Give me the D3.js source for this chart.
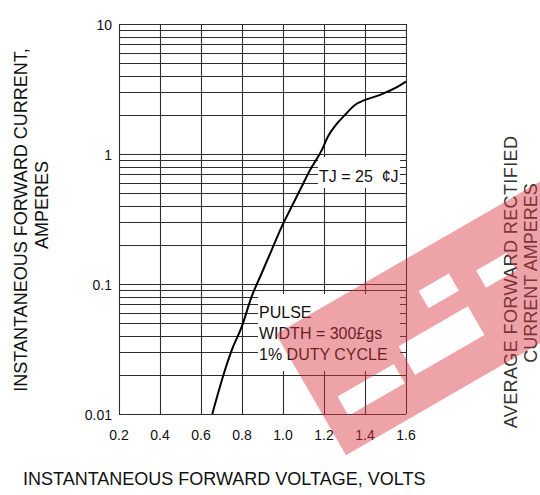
<!DOCTYPE html>
<html>
<head>
<meta charset="utf-8">
<script src="https://cdn.jsdelivr.net/npm/d3@7/dist/d3.min.js"></script>
<style>
  body { margin: 0; background: #fff; }
  svg text { font-family: "Liberation Sans", Arial, sans-serif; fill: #111; }
</style>
</head>
<body>
<div id="chart"></div>
<script>
// Forward voltage (V) vs instantaneous forward current (A)
const voltage = [0.655, 0.717, 0.75, 0.799, 0.847, 0.896, 0.945, 0.994, 1.034, 1.083,
                 1.132, 1.189, 1.22, 1.26, 1.30, 1.351, 1.376, 1.473, 1.556, 1.6];
const current = [0.01, 0.0218, 0.031, 0.047, 0.08, 0.121, 0.183, 0.276, 0.371, 0.528,
                 0.753, 1.07, 1.37, 1.69, 1.98, 2.38, 2.51, 2.85, 3.27, 3.6];

const xTicks = [0.2, 0.4, 0.6, 0.8, 1.0, 1.2, 1.4, 1.6];
const yTicks = [0.01, 0.1, 1, 10];
const yTickLabels = ["0.01", "0.1", "1", "10"];

const width = 540, height = 495;
const margin = { top: 24, right: 134, bottom: 81, left: 119 };

const svg = d3.select("#chart").append("svg")
    .attr("width", width)
    .attr("height", height);

const x = d3.scaleLinear().domain([0.2, 1.6]).range([margin.left, width - margin.right]);
const y = d3.scaleLog().domain([0.01, 10]).range([height - margin.bottom, margin.top]);

// grid: every 0.2 V and every 1..9 multiple of each decade
const hLines = [];
[0.01, 0.1, 1].forEach(dec => {
    for (let m = 1; m <= 9; m++) hLines.push(dec * m);
});
hLines.push(10);

const grid = svg.append("g")
    .attr("stroke", "#2e2e2e")
    .attr("stroke-width", 1.1);

grid.selectAll(".h")
    .data(hLines)
    .enter().append("line")
    .attr("x1", x(0.2)).attr("x2", x(1.6))
    .attr("y1", d => Math.round(y(d)) + 0.5)
    .attr("y2", d => Math.round(y(d)) + 0.5);

grid.selectAll(".v")
    .data(xTicks)
    .enter().append("line")
    .attr("x1", d => Math.round(x(d)) + 0.5)
    .attr("x2", d => Math.round(x(d)) + 0.5)
    .attr("y1", y(10)).attr("y2", y(0.01));

// white boxes behind the annotations (they cut the grid)
svg.append("rect").attr("x", 318).attr("y", 157).attr("width", 82).attr("height", 31).attr("fill", "#fff");
svg.append("rect").attr("x", 258).attr("y", 294).attr("width", 142).attr("height", 77).attr("fill", "#fff");

// the curve
const pts = voltage.map((v, i) => [v, current[i]]);
const line = d3.line()
    .x(d => x(d[0]))
    .y(d => y(d[1]))
    .curve(d3.curveMonotoneX);

svg.append("path")
    .datum(pts)
    .attr("d", line)
    .attr("fill", "none")
    .attr("stroke", "#000")
    .attr("stroke-width", 2);

// tick labels
svg.selectAll(".xl")
    .data(xTicks)
    .enter().append("text")
    .attr("x", d => x(d))
    .attr("y", 440)
    .attr("text-anchor", "middle")
    .style("font-size", "14px")
    .text(d => d3.format(".1f")(d));

svg.selectAll(".yl")
    .data(yTicks)
    .enter().append("text")
    .attr("x", 112)
    .attr("y", d => y(d) + 6)
    .attr("text-anchor", "end")
    .style("font-size", "14px")
    .text((d, i) => yTickLabels[i]);

// annotations
svg.append("text")
    .attr("x", 319).attr("y", 182)
    .style("font-size", "16px")
    .style("white-space", "pre")
    .text("TJ = 25  ¢J");

const pulse = ["PULSE", "WIDTH = 300£gs", "1% DUTY CYCLE"];
svg.selectAll(".pl")
    .data(pulse)
    .enter().append("text")
    .attr("x", 259)
    .attr("y", (d, i) => 318 + i * 21)
    .style("font-size", "16px")
    .text(d => d);

// axis titles
svg.append("text")
    .attr("x", 23).attr("y", 485)
    .style("font-size", "18px")
    .text("INSTANTANEOUS FORWARD VOLTAGE, VOLTS");

svg.append("text")
    .attr("transform", "translate(27,220) rotate(-90)")
    .attr("text-anchor", "middle")
    .style("font-size", "18px")
    .text("INSTANTANEOUS FORWARD CURRENT,");
svg.append("text")
    .attr("transform", "translate(48,205) rotate(-90)")
    .attr("text-anchor", "middle")
    .style("font-size", "18px")
    .text("AMPERES");

svg.append("text")
    .attr("transform", "translate(517,282) rotate(-90)")
    .attr("text-anchor", "middle")
    .style("font-size", "18px")
    .style("letter-spacing", "0.4px")
    .style("fill", "#333")
    .text("AVERAGE FORWARD RECTIFIED");
svg.append("text")
    .attr("transform", "translate(537,273) rotate(-90)")
    .attr("text-anchor", "middle")
    .style("font-size", "18px")
    .style("fill", "#333")
    .text("CURRENT AMPERES");

// translucent red watermark stamp on top
const wm = svg.append("g")
    .attr("transform", "translate(276,334) rotate(-30)")
    .attr("opacity", 0.45);
wm.append("path")
    .attr("fill", "#d9323f")
    .attr("fill-rule", "evenodd")
    .attr("d",
        "M0,0 H340 V140 H0 Z" +
        "M22,85 h65 v22 h-65 Z" +
        "M100,72 h80 v33 h-80 Z" +
        "M145,34 h35 v20 h-35 Z" +
        "M205,45 h35 v20 h-35 Z");
</script>
</body>
</html>
